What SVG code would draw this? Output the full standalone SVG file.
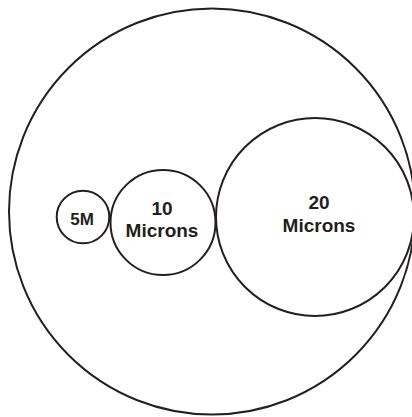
<svg xmlns="http://www.w3.org/2000/svg" width="412" height="417" viewBox="0 0 412 417">
<style>
.c{fill:none;stroke:#231f20;stroke-width:2}
.t{font-family:"Liberation Sans",Arial,sans-serif;font-weight:bold;fill:#231f20;text-anchor:middle}
</style>
<rect width="412" height="417" fill="#fff"/>
<g id="outer"><circle class="c" cx="212" cy="211.5" r="203"/></g>
<g id="n5"><circle class="c" cx="83" cy="217" r="26.3"/><text class="t" x="82" y="225" font-size="17">5M</text></g>
<g id="n10"><circle class="c" cx="163" cy="222.5" r="52.5"/><text class="t" x="162" y="215" font-size="19">10</text><text class="t" x="162" y="237" font-size="19">Microns</text></g>
<g id="n20"><circle class="c" cx="315" cy="217" r="99"/><text class="t" x="319" y="209" font-size="19">20</text><text class="t" x="319" y="231.5" font-size="19">Microns</text></g>
<g id="connectors"/>
</svg>
